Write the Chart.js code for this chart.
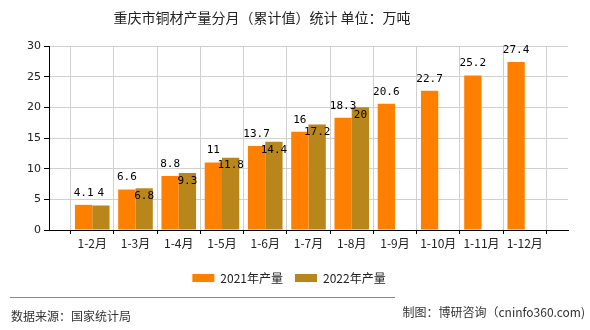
<!DOCTYPE html>
<html>
	<head>
		<title>重庆市铜材产量分月</title>
        <meta charset="UTF-8">
        <script src="https://cdn.jsdelivr.net/npm/chart.js@4.4.0/dist/chart.umd.min.js"></script>
        <style>
            body { margin: 0; background: #fff; }
            #box { width: 590px; height: 330px; position: relative; }
        </style>
	</head>
	<body>
        <div id="box"><canvas id="bar-chart" width="590" height="330"></canvas></div>

		<script>
			// data
			const months = ['1-2月', '1-3月', '1-4月', '1-5月', '1-6月', '1-7月', '1-8月', '1-9月', '1-10月', '1-11月', '1-12月'];
			const output2021 = [4.1, 6.6, 8.8, 11, 13.7, 16, 18.3, 20.6, 22.7, 25.2, 27.4];
			const output2022 = [4, 6.8, 9.3, 11.8, 14.4, 17.2, 20];
			const yTicks = [0, 5, 10, 15, 20, 25, 30];

			const CJK = '"Noto Sans CJK SC", "DejaVu Sans", sans-serif';
			const MONO = '"DejaVu Sans Mono", "Liberation Mono", monospace';

			// empty slot at each end, like the original axis
			const labels = [''].concat(months, ['']);
			function pad(arr) {
				const out = [null];
				for (let i = 0; i < months.length; i++) out.push(i < arr.length ? arr[i] : null);
				out.push(null);
				return out;
			}

			const extras = {
				id: 'extras',
				afterDatasetsDraw(chart) {
					const ctx = chart.ctx;
					ctx.save();
					ctx.font = '11px ' + MONO;
					ctx.fillStyle = '#000';
					ctx.textAlign = 'center';
					ctx.textBaseline = 'middle';
					const m0 = chart.getDatasetMeta(0), m1 = chart.getDatasetMeta(1);
					const d0 = chart.data.datasets[0].data, d1 = chart.data.datasets[1].data;
					for (let i = 0; i < labels.length; i++) {
						let box0 = null;
						if (d0[i] != null) {
							const b = m0.data[i];
							const t = String(d0[i]);
							const w = ctx.measureText(t).width;
							const y = b.y - 12;
							ctx.fillText(t, b.x, y);
							box0 = { l: b.x - w / 2, r: b.x + w / 2, t: y - 5, b: y + 5 };
						}
						if (d1[i] != null) {
							const b = m1.data[i];
							const t = String(d1[i]);
							const w = ctx.measureText(t).width;
							let y = b.y - 12;
							const l = b.x - w / 2, r = b.x + w / 2;
							// move the label into the bar when it would hit the 2021 label
							if (box0 && l < box0.r + 1 && r > box0.l - 1 && y - 5 < box0.b + 2 && y + 5 > box0.t - 2) {
								y = b.y + 8;
							}
							ctx.fillText(t, b.x, y);
						}
					}
					ctx.restore();
				},
				afterDraw(chart) {
					const ctx = chart.ctx;
					ctx.save();
					ctx.fillStyle = '#222';
					ctx.font = '14px ' + CJK;
					ctx.textAlign = 'center';
					ctx.textBaseline = 'middle';
					ctx.fillText('重庆市铜材产量分月（累计值）统计 单位：万吨', 262, 18);
					ctx.strokeStyle = '#888';
					ctx.lineWidth = 1;
					ctx.beginPath();
					ctx.moveTo(10, 297.5);
					ctx.lineTo(395, 297.5);
					ctx.stroke();
					ctx.font = '12px ' + CJK;
					ctx.textAlign = 'left';
					ctx.fillStyle = '#333';
					ctx.fillText('数据来源：国家统计局', 11, 316);
					ctx.textAlign = 'right';
					ctx.fillText('制图：博研咨询（cninfo360.com)', 585, 312);
					ctx.restore();
				}
			};

			new Chart(document.getElementById('bar-chart'), {
				type: 'bar',
				data: {
					labels: labels,
					datasets: [{
						label: '2021年产量',
						data: pad(output2021),
						backgroundColor: '#ff8000',
						categoryPercentage: 0.8,
						barPercentage: 1.0
					}, {
						label: '2022年产量',
						data: pad(output2022),
						backgroundColor: '#b8861b',
						categoryPercentage: 0.8,
						barPercentage: 1.0
					}]
				},
				options: {
					responsive: false,
					animation: false,
					layout: { padding: { top: 46, left: 10, right: 22, bottom: 36 } },
					plugins: {
						title: { display: false },
						tooltip: { enabled: false },
						legend: {
							position: 'bottom',
							labels: {
								boxWidth: 22,
								boxHeight: 8,
								padding: 12,
								color: '#222',
								font: { size: 12, family: CJK }
							}
						}
					},
					scales: {
						x: {
							offset: false,
							grid: { color: '#d0d0d0', tickColor: '#000', tickLength: 4, drawTicks: true },
							border: { color: '#000' },
							ticks: { color: '#222', font: { size: 12, family: CJK }, maxRotation: 0, autoSkip: false, padding: 2 },
							afterFit(s) { s.height = 30; }
						},
						y: {
							min: 0,
							max: 30,
							afterBuildTicks(s) { s.ticks = yTicks.map(v => ({ value: v })); },
							grid: { color: '#d0d0d0', tickColor: '#000', tickLength: 5 },
							border: { color: '#000' },
							ticks: { color: '#222', font: { size: 11, family: '"DejaVu Sans", sans-serif' }, padding: 3 },
							afterFit(s) { s.width = 39; }
						}
					}
				},
				plugins: [extras]
			});
		</script>
	</body>
</html>
